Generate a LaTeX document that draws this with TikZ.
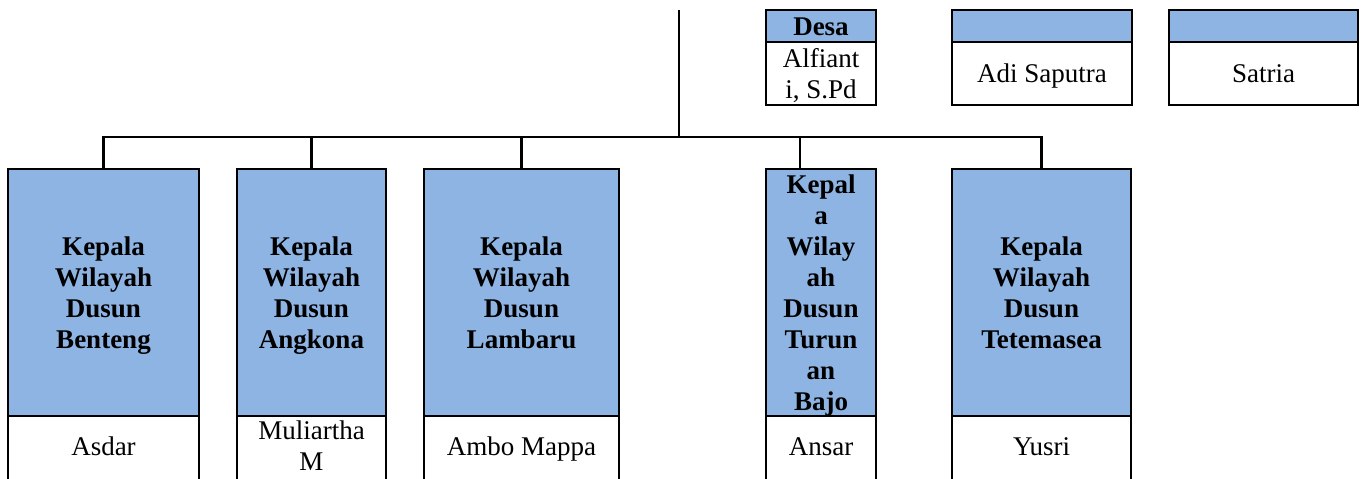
\documentclass[tikz,border=0pt]{standalone}
\usepackage{fontspec}
\setmainfont{Liberation Serif}
\newdimen\px \px=0.4444pt
\newcommand\topstrut{\rule{0pt}{10.8pt}}
\newcommand\botstrut{\rule[-2.4pt]{0pt}{2.4pt}}
\definecolor{hdblue}{RGB}{142,180,227}
\tikzset{
  cell/.style={draw=black, line width=0.9pt, inner sep=0pt, outer sep=0pt, anchor=north west, align=center, font=\fontsize{12}{13.8}\selectfont},
  hd/.style={cell, fill=hdblue, font=\fontsize{12}{13.8}\selectfont\bfseries},
  nm/.style={cell, fill=white},
  conn/.style={draw=black, line width=0.9pt}
}
\begin{document}
\begin{tikzpicture}[x=0.4444pt,y=-0.4444pt]
\useasboundingbox (0,0) rectangle (1366,478);
\clip (0,0) rectangle (1366,478);
% top boxes
\node[hd, minimum width=110\px, minimum height=32\px] (dh) at (766,10) {\topstrut Desa\botstrut};
\node[nm, minimum width=110\px, minimum height=63\px] (dn) at (766,42) {\topstrut Alfiant\\i, S.Pd\botstrut};
\node[hd, minimum width=180\px, minimum height=32\px] (ah) at (952,10) {};
\node[nm, minimum width=180\px, minimum height=63\px] (an) at (952,42) {\topstrut Adi Saputra\botstrut};
\node[hd, minimum width=189\px, minimum height=32\px] (sh) at (1169,10) {};
\node[nm, minimum width=189\px, minimum height=63\px] (sn) at (1169,42) {\topstrut Satria\botstrut};
% bottom boxes
\node[hd, minimum width=191\px, minimum height=247\px] (h1) at (8,169) {\topstrut Kepala\\Wilayah\\Dusun\\Benteng\botstrut};
\node[nm, minimum width=191\px, minimum height=66\px] (n1) at (8,416) {\strut Asdar\strut};
\node[hd, minimum width=149\px, minimum height=247\px] (h2) at (237,169) {\topstrut Kepala\\Wilayah\\Dusun\\Angkona\botstrut};
\node[nm, minimum width=149\px, minimum height=66\px] (n2) at (237,416) {\strut Muliartha\\M\strut};
\node[hd, minimum width=195\px, minimum height=247\px] (h3) at (424,169) {\topstrut Kepala\\Wilayah\\Dusun\\Lambaru\botstrut};
\node[nm, minimum width=195\px, minimum height=66\px] (n3) at (424,416) {\strut Ambo Mappa\strut};
\node[hd, minimum width=110\px, minimum height=247\px] (h4) at (766,169) {\topstrut Kepal\\a\\Wilay\\ah\\Dusun\\Turun\\an\\Bajo\botstrut};
\node[nm, minimum width=110\px, minimum height=66\px] (n4) at (766,416) {\strut Ansar\strut};
\node[hd, minimum width=179\px, minimum height=247\px] (h5) at (952,169) {\topstrut Kepala\\Wilayah\\Dusun\\Tetemasea\botstrut};
\node[nm, minimum width=179\px, minimum height=66\px] (n5) at (952,416) {\strut Yusri\strut};
% connectors
\coordinate (top) at (679,10);
\coordinate (bar) at (679,137);
\coordinate (d4) at (800,169);
\draw[conn] (top) -- (bar);
\draw[conn] (h1.north) -- (h1.north |- bar) -- (h5.north |- bar) -- (h5.north);
\draw[conn] (h2.north) -- (h2.north |- bar);
\draw[conn] (h3.north) -- (h3.north |- bar);
\draw[conn] (d4) -- (d4 |- bar);
\end{tikzpicture}
\end{document}
